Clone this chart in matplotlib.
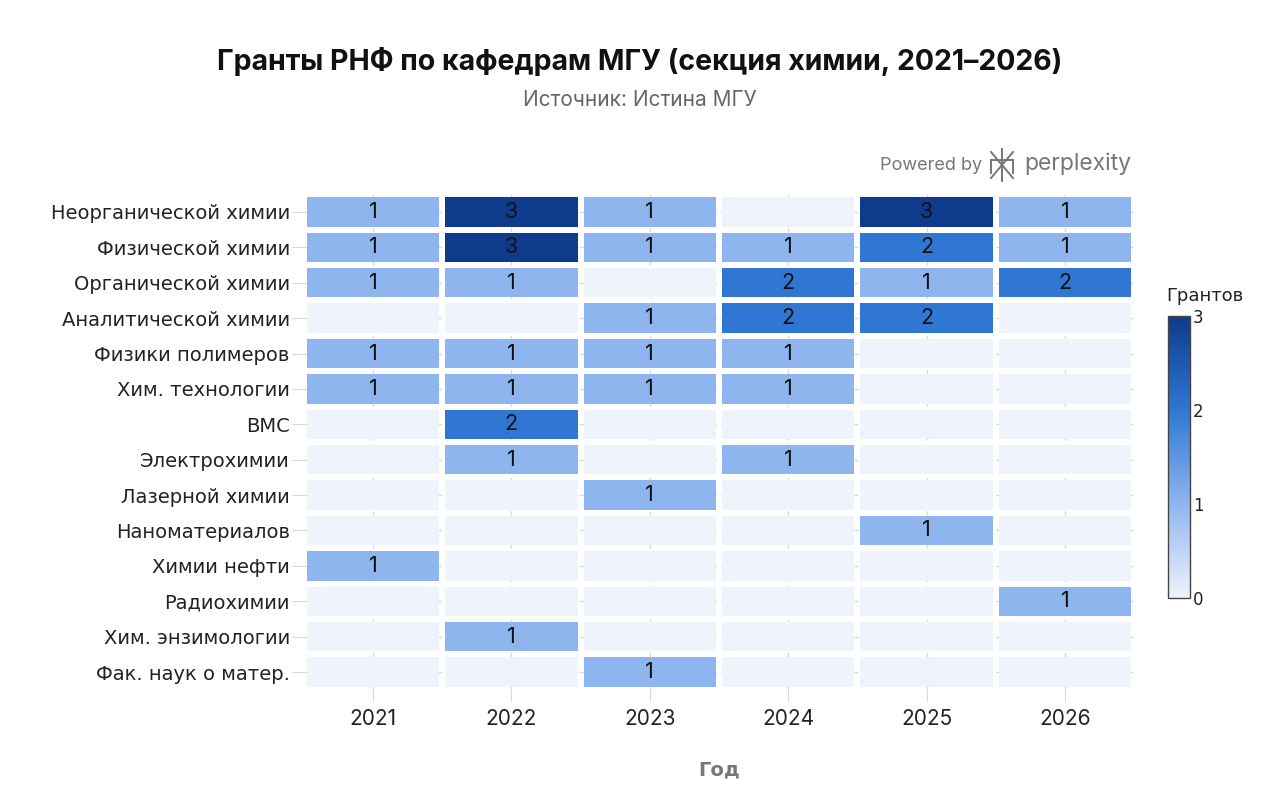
import numpy as np
import matplotlib.pyplot as plt
from matplotlib.colors import LinearSegmentedColormap
from matplotlib.patches import Rectangle
from matplotlib.colorbar import ColorbarBase
from matplotlib.colors import Normalize

# ------------------------------------------------------------------
# Data
# ------------------------------------------------------------------
years = ["2021", "2022", "2023", "2024", "2025", "2026"]
departments = [
    "Неорганической химии",
    "Физической химии",
    "Органической химии",
    "Аналитической химии",
    "Физики полимеров",
    "Хим. технологии",
    "ВМС",
    "Электрохимии",
    "Лазерной химии",
    "Наноматериалов",
    "Химии нефти",
    "Радиохимии",
    "Хим. энзимологии",
    "Фак. наук о матер.",
]
grants = [
    [1, 3, 1, 0, 3, 1],
    [1, 3, 1, 1, 2, 1],
    [1, 1, 0, 2, 1, 2],
    [0, 0, 1, 2, 2, 0],
    [1, 1, 1, 1, 0, 0],
    [1, 1, 1, 1, 0, 0],
    [0, 2, 0, 0, 0, 0],
    [0, 1, 0, 1, 0, 0],
    [0, 0, 1, 0, 0, 0],
    [0, 0, 0, 0, 1, 0],
    [1, 0, 0, 0, 0, 0],
    [0, 0, 0, 0, 0, 1],
    [0, 1, 0, 0, 0, 0],
    [0, 0, 1, 0, 0, 0],
]

# ------------------------------------------------------------------
# Style
# ------------------------------------------------------------------
cmap = LinearSegmentedColormap.from_list(
    "grants", ["#eef3fc", "#8fb5ef", "#2f77d3", "#0f3b8c"]
)
norm = Normalize(vmin=0, vmax=3)
GRID = "#d9d9d9"

fig = plt.figure(figsize=(12.8, 7.96), dpi=100)
ax = fig.add_axes([0.2373, 0.1335, 0.6488, 0.6224])

n_rows, n_cols = len(departments), len(years)

# dashed grid behind the cells
for c in range(n_cols):
    ax.plot([c, c], [-0.5, n_rows - 0.5], color=GRID, lw=1, ls=(0, (3, 3)), zorder=0)
for r in range(n_rows):
    ax.plot([-0.5, n_cols - 0.5], [r, r], color=GRID, lw=1, ls=(0, (3, 3)), zorder=0)

gx, gy = 0.022, 0.085
for r, row in enumerate(grants):
    for c, val in enumerate(row):
        ax.add_patch(Rectangle(
            (c - 0.5 + gx, r - 0.5 + gy), 1 - 2 * gx, 1 - 2 * gy,
            facecolor=cmap(norm(val)), edgecolor="none", zorder=1,
        ))
        if val > 0:
            ax.text(c, r, str(val), ha="center", va="center", fontsize=15.5,
                    family="Inter", color="#111111", zorder=2)

ax.set_xlim(-0.5, n_cols - 0.5)
ax.set_ylim(n_rows - 0.5, -0.5)
ax.set_xticks(range(n_cols))
ax.set_xticklabels(years, fontsize=15, family="Inter", color="#222222")
ax.set_yticks(range(n_rows))
ax.set_yticklabels(departments, fontsize=14, color="#222222")
ax.tick_params(axis="x", length=8, color=GRID, pad=6)
ax.tick_params(axis="y", length=9, color=GRID, pad=1)
for s in ax.spines.values():
    s.set_visible(False)

fig.text(0.5617, 1 - 770 / 796, "Год", ha="center", va="center", fontsize=14,
         fontweight="bold", color="#777777")

# ------------------------------------------------------------------
# Colorbar
# ------------------------------------------------------------------
cax = fig.add_axes([0.9125, 0.2487, 0.0172, 0.354])
cb = ColorbarBase(cax, cmap=cmap, norm=norm, ticks=[0, 1, 2, 3])
cb.outline.set_edgecolor("#444444")
cb.outline.set_linewidth(1)
cax.tick_params(length=0, labelsize=12, pad=2, labelcolor="#222222")
fig.text(0.911, 1 - 296 / 796, "Грантов", fontsize=13, color="#222222", ha="left", va="center")

# ------------------------------------------------------------------
# Titles
# ------------------------------------------------------------------
fig.text(0.5, 1 - 62 / 796, "Гранты РНФ по кафедрам МГУ (секция химии, 2021–2026)",
         ha="center", va="center", fontsize=20.5, fontweight="bold", family="Inter",
         color="#111111")
fig.text(0.5, 1 - 100 / 796, "Источник: Истина МГУ", ha="center", va="center",
         fontsize=15, family="Inter", color="#666666")

# "Powered by perplexity" badge
fig.text(982 / 1280, 1 - 166 / 796, "Powered by", ha="right", va="center",
         fontsize=13, color="#777777", family="Inter")
fig.text(1024 / 1280, 1 - 164 / 796, "perplexity", ha="left", va="center",
         fontsize=16.5, color="#777777", family="Inter")
icon_x, icon_y = 1002, 165
segs = [
    ((icon_x - 11, icon_y - 13), (icon_x + 11, icon_y + 13)),
    ((icon_x + 11, icon_y - 13), (icon_x - 11, icon_y + 13)),
    ((icon_x, icon_y - 16), (icon_x, icon_y + 16)),
    ((icon_x - 11, icon_y - 5), (icon_x + 11, icon_y - 5)),
    ((icon_x - 11, icon_y - 5), (icon_x - 11, icon_y + 8)),
    ((icon_x + 11, icon_y - 5), (icon_x + 11, icon_y + 8)),
]
for (x0, y0), (x1, y1) in segs:
    fig.add_artist(plt.Line2D([x0 / 1280, x1 / 1280], [1 - y0 / 796, 1 - y1 / 796],
                              color="#777777", lw=1.4, transform=fig.transFigure))

fig.savefig("out.png", dpi=100)
